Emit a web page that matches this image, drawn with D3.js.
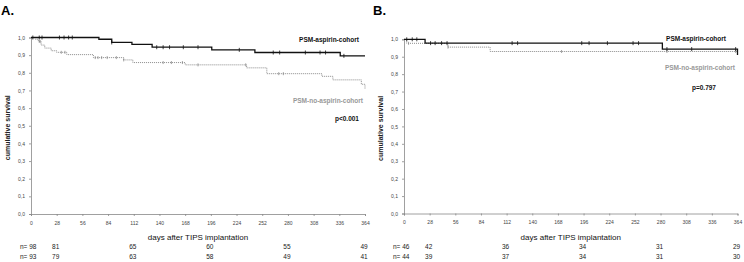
<!DOCTYPE html>
<html lang="en">
<head>
<meta charset="UTF-8">
<title>Survival after TIPS</title>
<script src="https://d3js.org/d3.v7.min.js"></script>
<style>
  body { margin: 0; background: #fff; }
  svg { display: block; font-family: "Liberation Sans", Arial, sans-serif; }
</style>
</head>
<body>
<div id="chart"></div>
<script>
// tick labels
const dayTicks = [0, 28, 56, 84, 112, 140, 168, 196, 224, 252, 280, 308, 336, 364];
const survTicks = [0, 0.1, 0.2, 0.3, 0.4, 0.5, 0.6, 0.7, 0.8, 0.9, 1.0];
const riskDays = [28, 112, 196, 280, 364];

// panel A: step points [day, survival]
const aAspirin = [[0,1],[74,0.99],[88,0.972],[110,0.961],[132,0.945],[197,0.93],[244,0.915],[337,0.896],[364,0.896]];
const aNoAspirin = [[0,1],[5,0.99],[8,0.978],[11,0.957],[15,0.94],[22,0.925],[28,0.916],[39,0.903],[68,0.886],[101,0.873],[111,0.858],[168,0.845],[235,0.828],[257,0.795],[317,0.78],[329,0.76],[360,0.735],[364,0.71]];
const aAspirinCens = [2, 9, 12, 31, 36, 41, 45, 88, 137, 144, 151, 166, 182, 227, 264, 271, 299, 315, 321, 341];
const aNoAspirinCens = [9, 10, 33, 37, 70, 73, 77, 83, 93, 101, 144, 153, 165, 182, 234, 270, 275];
const aRiskAspirin = [81, 65, 60, 55, 49];
const aRiskNoAspirin = [79, 63, 58, 49, 41];

// panel B
const bAspirin = [[0,1],[23,0.978],[282,0.944],[364,0.91]];
const bNoAspirin = [[0,1],[3,0.977],[48,0.955],[94,0.93],[364,0.91]];
const bAspirinCens = [3, 9, 14, 29, 34, 41, 47, 118, 124, 194, 202, 222, 250, 256, 287, 314, 362];
const bNoAspirinCens = [5, 48, 172, 287, 362];
const bRiskAspirin = [42, 36, 34, 31, 29];
const bRiskNoAspirin = [39, 37, 34, 31, 30];

const W = 744, H = 262;
const svg = d3.select('#chart').append('svg').attr('width', W).attr('height', H);

const fmt = d => d.toFixed(1).replace('.', ',');

function survAt(steps, day) {
  let v = 1;
  steps.forEach(s => { if (s[0] <= day) v = s[1]; });
  return v;
}

function drawPanel(p) {
  const g = svg.append('g');
  const x = d3.scaleLinear().domain([0, 364]).range([p.x0, p.x1]);
  const y = d3.scaleLinear().domain([0, 1]).range([p.y0, p.y1]);

  g.append('text').attr('x', p.lx).attr('y', 15)
    .attr('font-size', 13).attr('font-weight', 'bold').text(p.label);

  const xAxis = g.append('g').attr('transform', `translate(0,${p.y0})`)
    .call(d3.axisBottom(x).tickValues(dayTicks).tickSize(2).tickPadding(5));
  const yAxis = g.append('g').attr('transform', `translate(${p.x0},0)`)
    .call(d3.axisLeft(y).tickValues(survTicks).tickFormat(fmt).tickSize(2).tickPadding(4));
  [xAxis, yAxis].forEach(a => {
    a.select('.domain').attr('stroke', '#888').attr('stroke-width', 0.8);
    a.selectAll('.tick line').attr('stroke', '#888').attr('stroke-width', 0.8);
    a.selectAll('.tick text').attr('fill', '#444').attr('font-size', 5)
      .attr('font-family', '"Liberation Sans", Arial, sans-serif');
  });

  const line = d3.line().x(d => x(d[0])).y(d => y(d[1])).curve(d3.curveStepAfter);
  g.append('path').datum(p.noAsp).attr('d', line).attr('fill', 'none')
    .attr('stroke', '#8a8a8a').attr('stroke-width', 1).attr('stroke-dasharray', '1,1');
  g.append('path').datum(p.asp).attr('d', line).attr('fill', 'none')
    .attr('stroke', '#111').attr('stroke-width', 1.3);

  g.selectAll('.cn').data(p.noAspCens).enter().append('line')
    .attr('x1', d => x(d)).attr('x2', d => x(d))
    .attr('y1', d => y(survAt(p.noAsp, d)) - 1.5).attr('y2', d => y(survAt(p.noAsp, d)) + 1.5)
    .attr('stroke', '#8a8a8a').attr('stroke-width', 0.8);
  g.selectAll('.ca').data(p.aspCens).enter().append('line')
    .attr('x1', d => x(d)).attr('x2', d => x(d))
    .attr('y1', d => y(survAt(p.asp, d)) - 2).attr('y2', d => y(survAt(p.asp, d)) + 2)
    .attr('stroke', '#111').attr('stroke-width', 0.8);

  g.append('text').attr('transform', `translate(${p.x0 - 21},${(p.y0 + p.y1) / 2 + 2}) rotate(-90)`)
    .attr('text-anchor', 'middle').attr('font-size', 7).attr('font-weight', 'bold')
    .attr('fill', '#222').text('cumulative survival');
  g.append('text').attr('x', (p.x0 + p.x1) / 2).attr('y', p.y0 + 26)
    .attr('text-anchor', 'middle').attr('font-size', 8).attr('fill', '#111')
    .text('days after TIPS implantation');

  p.legend.forEach(l => {
    g.append('text').attr('x', l.x).attr('y', l.y).attr('text-anchor', 'end')
      .attr('font-size', l.size).attr('font-weight', 'bold').attr('fill', l.color).text(l.text);
  });

  [[p.riskAsp, p.nAsp, p.y0 + 35], [p.riskNo, p.nNo, p.y0 + 45]].forEach(([vals, n, yy]) => {
    g.append('text').attr('x', p.x0 - 11).attr('y', yy).attr('font-size', 6.5)
      .attr('fill', '#222').text('n= ' + n);
    g.selectAll(null).data(vals).enter().append('text')
      .attr('x', (d, i) => x(riskDays[i]) - 1).attr('y', yy)
      .attr('text-anchor', 'middle').attr('font-size', 6.5).attr('fill', '#222')
      .text(d => d);
  });
}

drawPanel({
  label: 'A.', lx: 1, x0: 31, x1: 365, y0: 214, y1: 37.5,
  asp: aAspirin, noAsp: aNoAspirin, aspCens: aAspirinCens, noAspCens: aNoAspirinCens,
  riskAsp: aRiskAspirin, riskNo: aRiskNoAspirin, nAsp: 98, nNo: 93,
  legend: [
    {text: 'PSM-aspirin-cohort', x: 359, y: 42, size: 6.5, color: '#111'},
    {text: 'PSM-no-aspirin-cohort', x: 363, y: 103, size: 6.5, color: '#999'},
    {text: 'p<0.001', x: 359, y: 121, size: 6.5, color: '#111'}
  ]
});

drawPanel({
  label: 'B.', lx: 373, x0: 404, x1: 737.5, y0: 213.5, y1: 39.3,
  asp: bAspirin, noAsp: bNoAspirin, aspCens: bAspirinCens, noAspCens: bNoAspirinCens,
  riskAsp: bRiskAspirin, riskNo: bRiskNoAspirin, nAsp: 46, nNo: 44,
  legend: [
    {text: 'PSM-aspirin-cohort', x: 726, y: 41, size: 6.5, color: '#111'},
    {text: 'PSM-no-aspirin-cohort', x: 735, y: 70, size: 6.5, color: '#999'},
    {text: 'p=0.797', x: 716, y: 90, size: 6.5, color: '#111'}
  ]
});
</script>
</body>
</html>
